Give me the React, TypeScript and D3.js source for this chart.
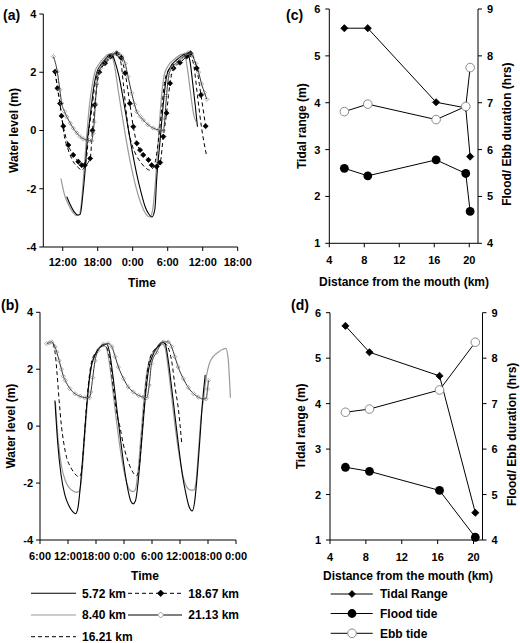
import React, { useEffect } from 'react';
import * as d3 from 'd3';

type P = [number, number];

const FONT = "'Liberation Sans', Arial, Helvetica, sans-serif";

// ---------- Panel (a): water level (m) vs time (hours from 0:00 of day 1)
const aTimeTicks = [12, 18, 24, 30, 36, 42];
const aTimeLabels = ['12:00', '18:00', '0:00', '6:00', '12:00', '18:00'];
const levelTicks = [-4, -2, 0, 2, 4];
const levelLabels = ['-4', '-2', '0', '2', '4'];

const a572: P[] = [[12.7,-2.27],[13.3,-2.55],[14.0,-2.8],[14.6,-2.9],[15.0,-2.88],[15.4,-2.3],[15.8,-1.46],[16.2,-0.4],[16.7,0.47],[17.25,1.39],[17.8,1.97],[18.5,2.25],[19.3,2.45],[20.0,2.6],[20.4,2.63],[20.9,2.4],[21.6,1.9],[22.4,1.05],[23.2,0.1],[24.0,-0.8],[24.8,-1.6],[25.4,-2.1],[26.1,-2.6],[26.7,-2.85],[27.3,-2.97],[27.8,-2.7],[28.1,-1.7],[28.7,-0.33],[29.2,0.82],[29.8,1.85],[30.5,2.2],[31.5,2.42],[32.5,2.58],[33.3,2.65],[33.8,2.4],[34.3,1.6],[34.7,0.9],[35.1,0.13]];
const a840: P[] = [[11.7,-1.65],[12.3,-2.2],[13.0,-2.55],[13.7,-2.8],[14.3,-2.92],[14.8,-2.9],[15.2,-2.5],[15.6,-1.5],[16.1,-0.2],[16.6,0.9],[17.1,1.6],[17.5,2.0],[18.3,2.3],[19.2,2.52],[19.9,2.62],[20.4,2.55],[20.9,2.2],[21.5,1.4],[22.2,0.5],[22.9,-0.35],[23.7,-1.2],[24.5,-1.9],[25.4,-2.5],[26.2,-2.85],[26.9,-2.97],[27.4,-2.75],[27.8,-2.0],[28.2,-0.9],[28.6,0.3],[29.0,1.3],[29.4,1.9],[30.0,2.2],[31.0,2.42],[32.0,2.58],[32.6,2.62],[33.1,2.45],[33.6,1.8],[34.1,1.0],[34.5,0.5],[34.9,0.3]];
const a1621: P[] = [[10.7,2.0],[11.25,1.28],[11.83,0.47],[12.2,-0.1],[12.96,-0.67],[13.8,-1.07],[14.67,-1.27],[15.2,-1.36],[15.6,-1.3],[16.1,-0.9],[16.5,0],[16.97,0.7],[17.4,1.4],[17.8,1.84],[19.0,2.24],[20.0,2.45],[20.8,2.6],[21.5,2.55],[22.0,2.3],[22.4,1.6],[22.8,0.8],[23.3,0.0],[23.9,-0.5],[24.6,-0.85],[25.4,-1.1],[26.2,-1.28],[26.9,-1.36],[27.6,-1.25],[28.1,-0.8],[28.6,0.0],[29.0,0.8],[29.5,1.7],[30.2,2.1],[31.2,2.3],[32.3,2.45],[33.3,2.6],[33.9,2.55],[34.5,2.2],[35.1,1.2],[35.8,0.1],[36.7,-0.9]];
const a1867: P[] = [[10.7,2.02],[11.1,1.45],[11.54,0.93],[11.8,0.5],[12.1,0.15],[12.96,-0.5],[13.8,-0.84],[14.67,-1.07],[15.26,-1.19],[15.8,-1.19],[16.7,-0.96],[17.1,0],[17.5,0.88],[18.27,2.0],[19.25,2.31],[20.2,2.54],[21.26,2.65],[22.0,2.5],[22.7,1.97],[23.5,0.93],[24.1,0.13],[24.7,-0.44],[25.26,-0.67],[25.8,-0.84],[26.7,-1.01],[27.26,-1.19],[28.1,-1.24],[28.7,-1.1],[29.25,-0.21],[29.8,0.6],[30.4,1.62],[31.0,2.14],[32.1,2.33],[33.26,2.54],[33.9,2.65],[34.97,2.14],[35.7,1.22],[36.5,0.15]];
const a2113: P[] = [[10.4,2.54],[11.07,2.02],[11.5,1.4],[11.83,0.93],[12.3,0.65],[12.7,0.47],[13.3,0.25],[13.8,0.08],[14.4,-0.08],[14.97,-0.21],[15.5,-0.28],[16.1,-0.33],[16.6,-0.35],[16.97,-0.35],[17.2,-0.1],[17.4,0.3],[17.6,0.93],[17.85,1.6],[18.1,1.97],[18.5,2.15],[18.96,2.31],[19.5,2.45],[20.1,2.57],[20.7,2.63],[21.26,2.65],[21.7,2.62],[22.1,2.55],[22.7,2.3],[23.2,1.85],[23.83,1.28],[24.3,0.9],[24.69,0.65],[25.3,0.48],[25.82,0.36],[26.6,0.2],[27.53,0.08],[28.4,0.02],[29.25,-0.01],[29.5,0.4],[29.8,1.2],[30.2,1.9],[30.7,2.15],[31.4,2.3],[32.2,2.45],[32.9,2.6],[33.5,2.67],[34.1,2.6],[34.8,2.3],[35.3,2.0],[35.8,1.6],[36.3,1.3],[36.7,1.07]];

// ---------- Panel (b): water level (m) vs time (hours from 0:00 of day 1)
const bTimeTicks = [6, 12, 18, 24, 30, 36, 42, 48];
const bTimeLabels = ['6:00', '12:00', '18:00', '0:00', '6:00', '12:00', '18:00', '0:00'];

const b572: P[] = [[9.2,0.9],[9.8,-0.6],[10.5,-1.7],[11.3,-2.4],[12.2,-2.8],[13.0,-3.0],[13.6,-3.08],[14.1,-2.9],[14.6,-2.2],[15.2,-1.0],[15.8,0.3],[16.4,1.4],[17.0,2.1],[17.8,2.5],[18.7,2.75],[19.6,2.85],[20.3,2.88],[20.9,2.6],[21.6,1.8],[22.4,0.7],[23.2,-0.4],[24.0,-1.4],[24.8,-2.2],[25.5,-2.65],[26.0,-2.73],[26.5,-2.6],[27.0,-2.0],[27.6,-0.9],[28.2,0.3],[28.8,1.4],[29.4,2.1],[30.2,2.5],[31.2,2.8],[32.2,2.95],[32.8,2.9],[33.4,2.4],[34.1,1.5],[34.9,0.4],[35.7,-0.7],[36.5,-1.7],[37.3,-2.4],[38.0,-2.85],[38.6,-2.98],[39.1,-2.7],[39.6,-1.9],[40.2,-0.6],[40.8,0.8],[41.4,1.8]];
const b840: P[] = [[9.3,0.85],[9.9,-0.5],[10.6,-1.4],[11.4,-1.9],[12.2,-2.15],[13.0,-2.27],[13.8,-2.32],[14.3,-2.3],[14.8,-2.0],[15.3,-1.0],[15.9,0.3],[16.5,1.5],[17.1,2.2],[17.9,2.55],[18.8,2.75],[19.6,2.82],[20.1,2.8],[20.7,2.4],[21.5,1.4],[22.3,0.3],[23.1,-0.7],[23.9,-1.5],[24.6,-2.0],[25.3,-2.25],[26.0,-2.3],[26.5,-2.2],[27.0,-1.6],[27.6,-0.4],[28.2,0.8],[28.8,1.8],[29.5,2.35],[30.5,2.65],[31.5,2.8],[32.2,2.88],[32.8,2.75],[33.5,2.0],[34.3,0.9],[35.1,-0.2],[35.9,-1.1],[36.7,-1.8],[37.5,-2.15],[38.3,-2.25],[38.9,-2.25],[39.4,-2.0],[39.9,-1.0],[40.5,0.3],[41.0,0.9],[41.6,1.7],[42.3,2.2],[43.1,2.44],[44.2,2.6],[45.2,2.7],[45.8,2.73],[46.3,2.4],[46.8,1.0]];
const b1621: P[] = [[8.8,2.9],[9.3,2.5],[9.6,1.96],[10.1,0.9],[10.6,0],[11.1,-0.6],[11.7,-1.1],[12.6,-1.45],[13.5,-1.68],[14.4,-1.78],[14.9,-1.6],[15.4,-0.6],[16.0,0.8],[16.6,1.8],[17.1,2.3],[18.0,2.6],[19.0,2.8],[19.6,2.85],[20.3,2.75],[21.0,2.3],[21.8,1.2],[22.5,0.4],[23.1,0],[23.8,-0.6],[24.6,-1.1],[25.3,-1.42],[25.9,-1.62],[26.7,-1.74],[27.2,-1.5],[27.8,-0.4],[28.4,0.9],[29.0,1.9],[29.6,2.4],[30.6,2.7],[31.8,2.85],[32.8,2.9],[33.6,2.7],[34.3,2.2],[35.0,1.3],[35.6,0.67],[36.4,-0.65]];
const b2113: P[] = [[7.43,2.9],[8.0,2.93],[8.5,2.96],[9.2,2.79],[9.6,2.6],[10.1,2.3],[10.6,2.0],[11.0,1.75],[11.4,1.61],[12.4,1.32],[13.5,1.14],[14.6,1.05],[15.6,1.0],[16.6,1.0],[16.9,1.2],[17.3,1.7],[17.8,2.3],[18.5,2.67],[19.6,2.88],[20.6,2.9],[21.4,2.79],[22.1,2.44],[22.8,2.08],[23.9,1.67],[24.9,1.38],[26.0,1.2],[27.1,1.08],[28.1,1.02],[28.9,1.0],[29.4,1.44],[29.9,2.2],[31.0,2.6],[32.4,2.96],[33.5,2.96],[34.2,2.79],[34.9,2.44],[35.6,2.08],[36.7,1.67],[37.8,1.35],[38.9,1.14],[39.9,1.02],[41.0,0.96],[41.6,0.96],[41.9,1.3],[42.1,1.61]];

// ---------- Panels (c) and (d): tidal range and durations vs distance (km)
const distTicks = [4, 8, 12, 16, 20];
const rangeTicks = [1, 2, 3, 4, 5, 6];
const durationTicks = [4, 5, 6, 7, 8, 9];

const cDist = [5.72, 8.4, 16.21, 19.6, 20.1];
const cRange = [5.59, 5.59, 4.01, 3.89, 2.85];
const cFlood = [5.6, 5.44, 5.78, 5.49, 4.68];
const cEbb = [6.81, 6.97, 6.64, 6.92, 7.75];

const dDist = [5.72, 8.4, 16.21, 20.2];
const dRange = [5.71, 5.13, 4.61, 1.6];
const dFlood = [5.6, 5.51, 5.09, 4.06];
const dEbb = [6.81, 6.88, 7.3, 8.35];

const stationLabels = ['5.72 km', '8.40 km', '16.21 km', '18.67 km', '21.13 km'];
const cdLegend = ['Tidal Range', 'Flood tide', 'Ebb tide'];

type Series = { data: P[]; stroke: string; width: number; dash?: string; marker?: 'filled' | 'open' };

function Diamond({ cx, cy, r, fill, stroke, sw = 0.8 }: { cx: number; cy: number; r: number; fill: string; stroke: string; sw?: number }) {
  return <path d={`M${cx},${cy - r}L${cx + r},${cy}L${cx},${cy + r}L${cx - r},${cy}Z`} fill={fill} stroke={stroke} strokeWidth={sw} />;
}

function TimePanel(props: {
  l: number; r: number; t: number; b: number; domain: [number, number];
  tickVals: number[]; tickLabels: string[]; series: Series[];
  letter: string; letterX: number; letterY: number; ylabX: number; tickDy: number; titleDy: number; titleX: number;
}) {
  const { l, r, t, b, domain, tickVals, tickLabels, series } = props;
  const x = d3.scaleLinear().domain(domain).range([l, r]);
  const y = d3.scaleLinear().domain([-4, 4]).range([b, t]);
  const line = d3.line<P>().x(d => x(d[0])).y(d => y(d[1])).curve(d3.curveMonotoneX);
  return (
    <g>
      {series.map((s, i) => (
        <path key={'l' + i} d={line(s.data) || ''} fill="none" stroke={s.stroke} strokeWidth={s.width} strokeDasharray={s.dash} />
      ))}
      {series.map((s, i) =>
        s.marker
          ? s.data.map((d, j) => (
              <Diamond key={`m${i}-${j}`} cx={x(d[0])} cy={y(d[1])} r={s.marker === 'filled' ? 2.6 : 2.1}
                fill={s.marker === 'filled' ? '#000' : 'none'} stroke={s.marker === 'filled' ? '#000' : '#8a8a8a'} sw={0.7} />
            ))
          : null
      )}
      <line x1={l} x2={l} y1={t} y2={b} stroke="#000" strokeWidth={1} />
      <line x1={l} x2={r} y1={b} y2={b} stroke="#000" strokeWidth={1} />
      {levelTicks.map((v, i) => (
        <g key={'y' + v}>
          <line x1={l - 4} x2={l} y1={y(v)} y2={y(v)} stroke="#000" />
          <text x={l - 7} y={y(v)} dy="0.36em" textAnchor="end" fontSize={11} fontWeight="bold">{levelLabels[i]}</text>
        </g>
      ))}
      {tickVals.map((v, i) => (
        <g key={'x' + i}>
          <line x1={x(v)} x2={x(v)} y1={b} y2={b + 4} stroke="#000" />
          <text x={x(v)} y={b + props.tickDy} textAnchor="middle" fontSize={11} fontWeight="bold">{tickLabels[i]}</text>
        </g>
      ))}
      <text x={props.titleX} y={b + props.titleDy} textAnchor="middle" fontSize={12} fontWeight="bold">Time</text>
      <text transform={`translate(${props.ylabX},${(t + b) / 2}) rotate(-90)`} textAnchor="middle" dominantBaseline="central" fontSize={12} fontWeight="bold">Water level (m)</text>
      <text x={props.letterX} y={props.letterY} fontSize={14} fontWeight="bold">{props.letter}</text>
    </g>
  );
}

function DistPanel(props: {
  l: number; r: number; t: number; b: number; dist: number[]; range: number[]; flood: number[]; ebb: number[];
  letter: string; letterX: number; letterY: number; leftLabX: number; rightLabX: number; tickDy: number; titleDy: number; titleX: number;
}) {
  const { l, r, t, b, dist, range, flood, ebb } = props;
  const x = d3.scaleLinear().domain([4, 21]).range([l, r]);
  const yL = d3.scaleLinear().domain([1, 6]).range([b, t]);
  const yR = d3.scaleLinear().domain([4, 9]).range([b, t]);
  const lineL = d3.line<number>().x((_, i) => x(dist[i])).y(d => yL(d));
  const lineR = d3.line<number>().x((_, i) => x(dist[i])).y(d => yR(d));
  return (
    <g>
      <line x1={l} x2={l} y1={t} y2={b} stroke="#000" />
      <line x1={r} x2={r} y1={t} y2={b} stroke="#000" />
      <line x1={l} x2={r} y1={b} y2={b} stroke="#000" />
      {rangeTicks.map(v => (
        <g key={'L' + v}>
          <line x1={l - 4} x2={l} y1={yL(v)} y2={yL(v)} stroke="#000" />
          <text x={l - 9} y={yL(v)} dy="0.36em" textAnchor="end" fontSize={11} fontWeight="bold">{v}</text>
        </g>
      ))}
      {durationTicks.map(v => (
        <g key={'R' + v}>
          <line x1={r} x2={r + 4} y1={yR(v)} y2={yR(v)} stroke="#000" />
          <text x={r + 9} y={yR(v)} dy="0.36em" textAnchor="start" fontSize={11} fontWeight="bold">{v}</text>
        </g>
      ))}
      {distTicks.map(v => (
        <g key={'X' + v}>
          <line x1={x(v)} x2={x(v)} y1={b} y2={b + 4} stroke="#000" />
          <text x={x(v)} y={b + props.tickDy} textAnchor="middle" fontSize={11} fontWeight="bold">{v}</text>
        </g>
      ))}
      <path d={lineL(range) || ''} fill="none" stroke="#000" strokeWidth={1} />
      <path d={lineR(flood) || ''} fill="none" stroke="#000" strokeWidth={1} />
      <path d={lineR(ebb) || ''} fill="none" stroke="#000" strokeWidth={1} />
      {range.map((v, i) => <Diamond key={'d' + i} cx={x(dist[i])} cy={yL(v)} r={3.6} fill="#000" stroke="#000" />)}
      {flood.map((v, i) => <circle key={'f' + i} cx={x(dist[i])} cy={yR(v)} r={4.4} fill="#000" />)}
      {ebb.map((v, i) => <circle key={'e' + i} cx={x(dist[i])} cy={yR(v)} r={4.3} fill="#fff" stroke="#8a8a8a" strokeWidth={1} />)}
      <text x={props.titleX} y={b + props.titleDy} textAnchor="middle" fontSize={12} fontWeight="bold">Distance from the mouth (km)</text>
      <text transform={`translate(${props.leftLabX},${(t + b) / 2}) rotate(-90)`} textAnchor="middle" dominantBaseline="central" fontSize={12} fontWeight="bold">Tidal range (m)</text>
      <text transform={`translate(${props.rightLabX},${(t + b) / 2 + 8}) rotate(-90)`} textAnchor="middle" dominantBaseline="central" fontSize={12} fontWeight="bold">Flood/ Ebb duration (hrs)</text>
      <text x={props.letterX} y={props.letterY} fontSize={14} fontWeight="bold">{props.letter}</text>
    </g>
  );
}

const aSeries: Series[] = [
  { data: a840, stroke: '#9a9a9a', width: 1.2 },
  { data: a572, stroke: '#000', width: 1.1 },
  { data: a1621, stroke: '#000', width: 1, dash: '4,3' },
  { data: a1867, stroke: '#000', width: 1, dash: '4,3', marker: 'filled' },
  { data: a2113, stroke: '#333', width: 1, marker: 'open' },
];
const bSeries: Series[] = [
  { data: b840, stroke: '#9a9a9a', width: 1.2 },
  { data: b572, stroke: '#000', width: 1.1 },
  { data: b1621, stroke: '#000', width: 1, dash: '4,3' },
  { data: b2113, stroke: '#333', width: 1, marker: 'open' },
];

export default function App() {
  useEffect(() => {
    document.body.style.margin = '0';
  }, []);
  return (
    <svg width={520} height={643} style={{ position: 'absolute', left: 0, top: 0, background: '#fff', fontFamily: FONT }}>
      <TimePanel l={43.3} r={237.7} t={14} b={247} domain={[8.67, 42]} tickVals={aTimeTicks} tickLabels={aTimeLabels}
        series={aSeries} letter="(a)" letterX={3} letterY={20} ylabX={14} tickDy={18.5} titleDy={40} titleX={142} />
      <TimePanel l={40} r={236} t={312.3} b={540} domain={[6, 48]} tickVals={bTimeTicks} tickLabels={bTimeLabels}
        series={bSeries} letter="(b)" letterX={1} letterY={310} ylabX={11} tickDy={20} titleDy={39.5} titleX={145} />
      <DistPanel l={329.3} r={478} t={9} b={243.3} dist={cDist} range={cRange} flood={cFlood} ebb={cEbb}
        letter="(c)" letterX={286} letterY={20} leftLabX={301.7} rightLabX={506.7} tickDy={20.7} titleDy={42.7} titleX={404} />
      <DistPanel l={330} r={482.5} t={312.7} b={540} dist={dDist} range={dRange} flood={dFlood} ebb={dEbb}
        letter="(d)" letterX={291} letterY={310} leftLabX={300.8} rightLabX={512} tickDy={21} titleDy={40} titleX={408} />

      {/* Legend for (a)/(b) */}
      <g fontSize={12} fontWeight="bold">
        <line x1={31} x2={76} y1={593.3} y2={593.3} stroke="#000" strokeWidth={1.1} />
        <text x={82} y={597.6}>{stationLabels[0]}</text>
        <line x1={128} x2={182} y1={593.3} y2={593.3} stroke="#000" strokeWidth={1} strokeDasharray="4,3" />
        <Diamond cx={160.7} cy={593.3} r={3.2} fill="#000" stroke="#000" />
        <text x={188.3} y={597.6}>{stationLabels[3]}</text>
        <line x1={31} x2={76} y1={615} y2={615} stroke="#9a9a9a" strokeWidth={1.2} />
        <text x={82} y={619.3}>{stationLabels[1]}</text>
        <line x1={128} x2={182} y1={615} y2={615} stroke="#000" strokeWidth={1} />
        <Diamond cx={160.7} cy={615} r={3} fill="#fff" stroke="#8a8a8a" />
        <text x={188.3} y={619.3}>{stationLabels[4]}</text>
        <line x1={31} x2={76} y1={636.7} y2={636.7} stroke="#000" strokeWidth={1} strokeDasharray="4,3" />
        <text x={82} y={641}>{stationLabels[2]}</text>
      </g>

      {/* Legend for (c)/(d) */}
      <g fontSize={12} fontWeight="bold">
        <line x1={330.7} x2={372.7} y1={594} y2={594} stroke="#000" />
        <Diamond cx={352} cy={594} r={3.4} fill="#000" stroke="#000" />
        <text x={380} y={598.3}>{cdLegend[0]}</text>
        <line x1={330.7} x2={372.7} y1={613.5} y2={613.5} stroke="#000" />
        <circle cx={352} cy={613.5} r={4.4} fill="#000" />
        <text x={380} y={617.8}>{cdLegend[1]}</text>
        <line x1={330.7} x2={372.7} y1={633.3} y2={633.3} stroke="#000" />
        <circle cx={352} cy={633.3} r={4.3} fill="#fff" stroke="#8a8a8a" />
        <text x={380} y={637.6}>{cdLegend[2]}</text>
      </g>
    </svg>
  );
}
